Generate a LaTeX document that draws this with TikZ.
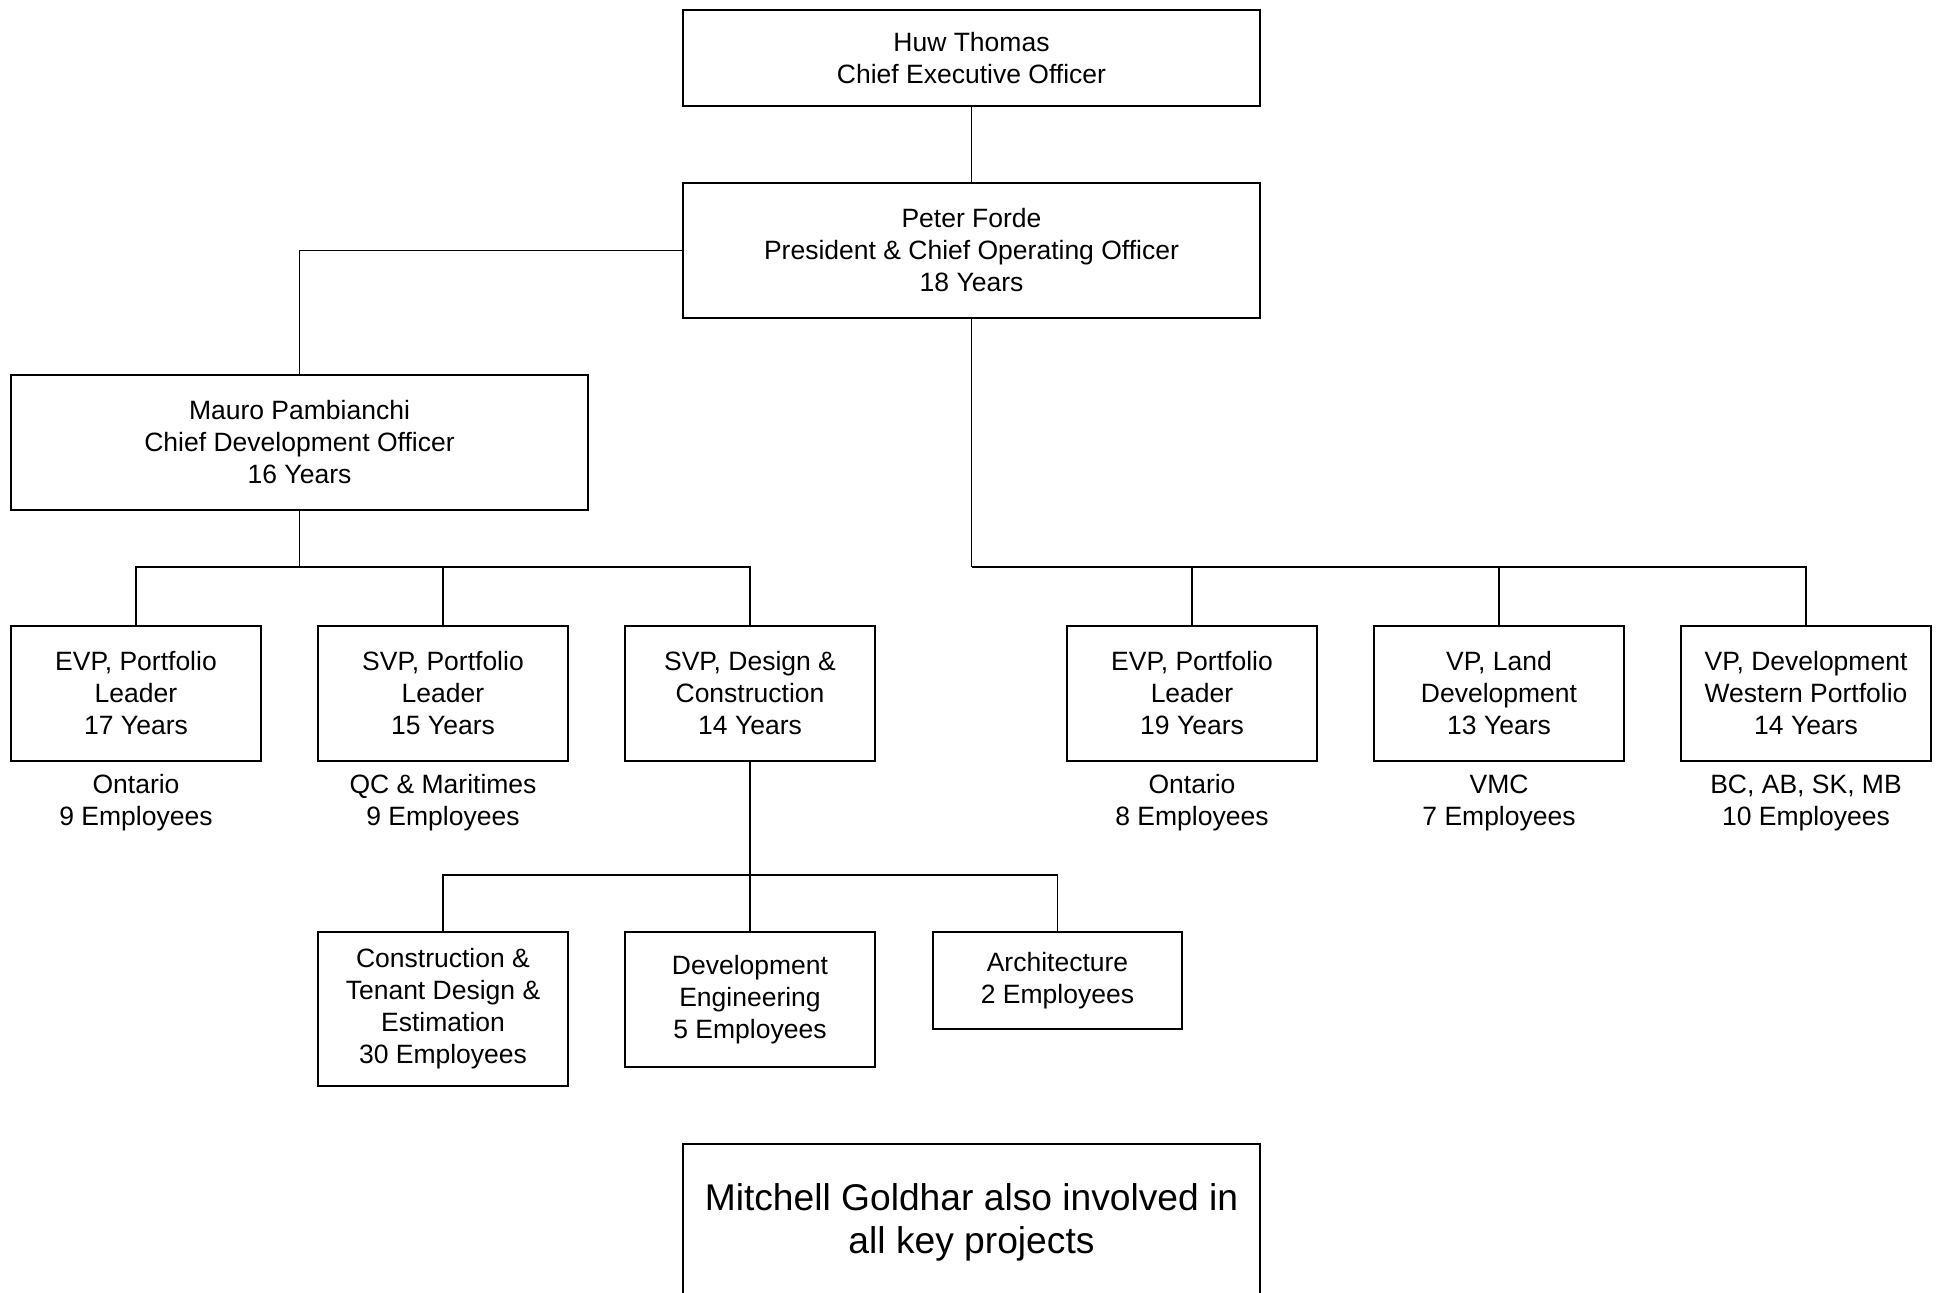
\documentclass[tikz,border=0pt]{standalone}
\usepackage{fontspec}
\setmainfont{Liberation Sans}
\begin{document}
\begin{tikzpicture}[x=0.5pt,y=-0.5pt,
  box/.style={draw,line width=0.9pt,rectangle,inner sep=0pt,align=center,
    font=\fontsize{13.25}{16}\selectfont,execute at begin node={\rule{0pt}{12.2pt}}},
  wide/.style={box,minimum width=288.5pt},
  row/.style={box,minimum width=125pt,minimum height=67.5pt},
  lbl/.style={inner sep=0pt,align=center,font=\fontsize{13.25}{16}\selectfont,
    execute at begin node={\rule{0pt}{12.2pt}}},
  conn/.style={line width=0.7pt}]
\useasboundingbox (0,0) rectangle (1941,1293);
% top
\node[wide,minimum height=48pt] (ceo) at (971.5,58) {Huw Thomas\\Chief Executive Officer};
\node[wide,minimum height=67.5pt] (peter) at (971.5,250.5) {Peter Forde\\President \& Chief Operating Officer\\18 Years};
\node[wide,minimum height=67.5pt] (mauro) at (299.5,442.5) {Mauro Pambianchi\\Chief Development Officer\\16 Years};
% row
\node[row] (evpa) at (136,693.5) {EVP, Portfolio\\Leader\\17 Years};
\node[row] (svp) at (443,693.5) {SVP, Portfolio\\Leader\\15 Years};
\node[row] (svpd) at (750,693.5) {SVP, Design \&\\Construction\\14 Years};
\node[row] (evpb) at (1192,693.5) {EVP, Portfolio\\Leader\\19 Years};
\node[row] (vpl) at (1499,693.5) {VP, Land\\Development\\13 Years};
\node[row] (vpd) at (1806,693.5) {VP, Development\\Western Portfolio\\14 Years};
% labels
\node[lbl] (la) at (136,803) {Ontario\\9 Employees};
\node[lbl] (lb) at (443,803) {QC \& Maritimes\\9 Employees};
\node[lbl] (lc) at (1192,803) {Ontario\\8 Employees};
\node[lbl] (ld) at (1499,803) {VMC\\7 Employees};
\node[lbl] (le) at (1806,803) {BC, AB, SK, MB\\10 Employees};
% sub
\node[box,minimum width=125pt,minimum height=77pt] (cons) at (443,1009) {Construction \&\\Tenant Design \&\\Estimation\\30 Employees};
\node[box,minimum width=125pt,minimum height=67.5pt] (deve) at (750,999.5) {Development\\Engineering\\5 Employees};
\node[box,minimum width=124.5pt,minimum height=48.5pt] (arch) at (1057.5,980.5) {Architecture\\2 Employees};
% note
\node[draw,line width=0.9pt,rectangle,inner sep=0pt,align=center,minimum width=288.5pt,minimum height=78pt,
  font=\fontsize{18.6}{21.5}\selectfont,execute at begin node={\rule{0pt}{16.1pt}}] (note) at (971.5,1222) {Mitchell Goldhar also involved in\\all key projects};
% connectors
\coordinate (bL) at (299.5,567);
\coordinate (bR) at (971.5,567);
\coordinate (bS) at (750,875);
\draw[conn] (ceo.south) -- (peter.north);
\draw[conn] (peter.west) -| (mauro.north);
\draw[conn] (mauro.south) -- (bL);
\draw[conn] (evpa.north) |- (bL);
\draw[conn] (svpd.north) |- (bL);
\draw[conn] (svp.north) -- (svp.north |- bL);
\draw[conn] (peter.south) -- (bR);
\draw[conn] (evpb.north) |- (bR);
\draw[conn] (vpd.north) |- (bR);
\draw[conn] (vpl.north) -- (vpl.north |- bR);
\draw[conn] (svpd.south) -- (deve.north);
\draw[conn] (cons.north) |- (bS);
\draw[conn] (arch.north) |- (bS);
\end{tikzpicture}
\end{document}
